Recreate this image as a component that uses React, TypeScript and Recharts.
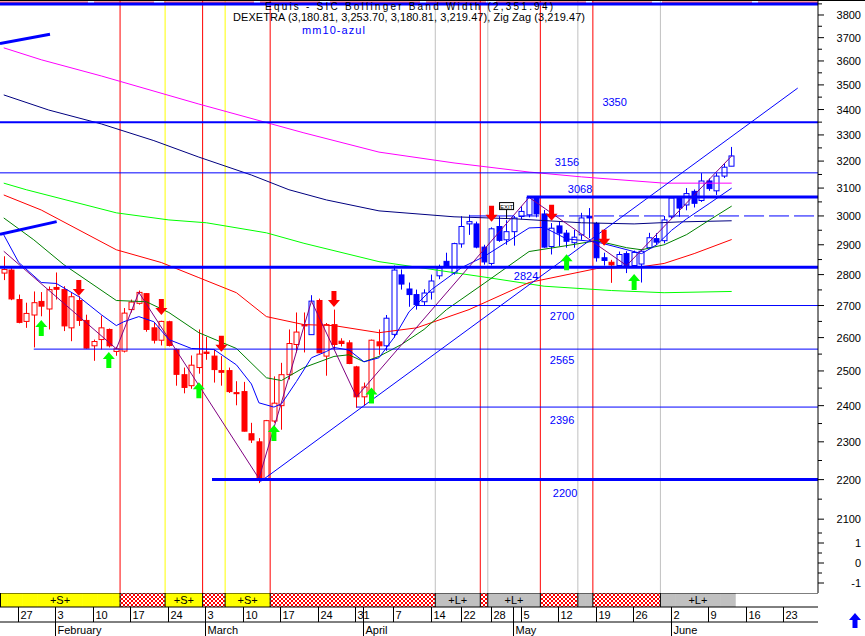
import React from "react";
import {
  ComposedChart,
  Bar,
  Line,
  Scatter,
  XAxis,
  YAxis,
  ReferenceLine,
  ReferenceDot,
} from "recharts";

const FONT = '"Liberation Sans", Arial, sans-serif';

// trading days: 0 = 23 Jan ... 108 = 27 Jun (18 Apr, 21 Apr and 1 May closed)
const weekTicks = [2, 7, 12, 17, 22, 27, 32, 37, 42, 47, 52, 57, 61, 65, 69, 74, 79, 84, 89, 94, 99, 104];
const weekLabels = ["27", "3", "10", "17", "24", "3", "10", "17", "24", "31", "7", "14", "22", "28", "5", "12", "19", "26", "2", "9", "16", "23"];
const monthTicks = [7, 27, 48, 68, 89];
const monthLabels = ["February", "March", "April", "May", "June"];

const opens = [
  2805, 2815, 2719, 2650, 2670, 2713, 2689, 2758, 2751, 2630,
  2716, 2653, 2575, 2594, 2625, 2558, 2559, 2687, 2707, 2738,
  2630, 2592, 2649, 2564, 2489, 2457, 2510, 2556, 2544, 2501,
  2501, 2437, 2440, 2322, 2300, 2203, 2357, 2400, 2489, 2579,
  2640, 2609, 2716, 2544, 2640, 2589, 2584, 2512, 2425, 2440,
  2587, 2575, 2610, 2799, 2753, 2735, 2712, 2743, 2796, 2844,
  2805, 2903, 2972, 2972, 2892, 2837, 2963, 2917, 2945, 2998,
  3004, 3066, 3007, 2894, 2965, 2940, 2907, 2934, 2999, 2974,
  2856, 2841, 2830, 2870, 2830, 2835, 2890, 2921, 2914, 2997,
  3064, 3039, 3088, 3055, 3126, 3090, 3144, 3180.81,
];
const highs = [
  2861, 2823, 2735, 2709, 2745, 2743, 2761, 2807, 2762, 2741,
  2730, 2671, 2594, 2668, 2628, 2572, 2692, 2719, 2748, 2740,
  2647, 2652, 2652, 2567, 2510, 2546, 2625, 2602, 2564, 2544,
  2510, 2470, 2468, 2352, 2310, 2360, 2484, 2524, 2625, 2678,
  2678, 2733, 2722, 2645, 2687, 2598, 2592, 2515, 2466, 2594,
  2625, 2670, 2830, 2817, 2774, 2751, 2752, 2800, 2833, 2873,
  2907, 2999, 3004, 2980, 2900, 2960, 2999, 2985, 3000, 3035,
  3068, 3068, 3021, 2975, 2980, 2951, 2951, 3011, 3028, 2979,
  2873, 2849, 2877, 2878, 2880, 2885, 2941, 2940, 3000, 3070,
  3070, 3100, 3095, 3155, 3135, 3155, 3190, 3253.7,
];
const lows = [
  2782, 2717, 2644, 2630, 2570, 2666, 2625, 2719, 2620, 2589,
  2636, 2566, 2530, 2564, 2570, 2545, 2555, 2678, 2703, 2618,
  2582, 2576, 2573, 2457, 2435, 2448, 2492, 2533, 2466, 2457,
  2436, 2401, 2328, 2297, 2191, 2198, 2352, 2333, 2475, 2555,
  2555, 2609, 2554, 2486, 2564, 2573, 2520, 2394, 2400, 2432,
  2548, 2560, 2600, 2751, 2696, 2687, 2700, 2719, 2785, 2823,
  2800, 2890, 2934, 2888, 2833, 2830, 2910, 2900, 2897, 2988,
  2995, 2995, 2890, 2867, 2895, 2890, 2890, 2917, 2923, 2843,
  2830, 2773, 2823, 2805, 2825, 2774, 2885, 2900, 2905, 2990,
  2997, 3020, 3030, 3050, 3090, 3075, 3137, 3180.81,
];
const closes = [
  2817, 2721, 2647, 2675, 2709, 2698, 2751, 2752, 2636, 2728,
  2653, 2568, 2588, 2630, 2575, 2566, 2676, 2711, 2742, 2625,
  2592, 2650, 2576, 2490, 2452, 2517, 2550, 2552, 2504, 2496,
  2440, 2434, 2329, 2305, 2203, 2358, 2407, 2489, 2582, 2617,
  2636, 2714, 2554, 2640, 2579, 2582, 2522, 2425, 2453, 2592,
  2575, 2660, 2815, 2769, 2735, 2703, 2740, 2779, 2822, 2827,
  2904, 2963, 2980, 2892, 2842, 2955, 2915, 2945, 2993, 3016,
  3066, 3007, 2892, 2957, 2940, 2912, 2926, 2993, 2993, 2856,
  2847, 2832, 2867, 2830, 2874, 2878, 2924, 2909, 2986, 3064,
  3028, 3080, 3045, 3126, 3098, 3144, 3177, 3219.47,
];
// r = red candle, b = blue candle
const candleColors = "r".repeat(41) + "b" + "r".repeat(9) + "b".repeat(30) + "r" + "b".repeat(16);

// moving averages, [day, value]
const maMagenta = [[0, 3656], [5, 3605], [13, 3537], [26, 3422], [40, 3308], [50, 3234], [60, 3193], [70, 3159], [77, 3141], [88, 3118], [97, 3118]];
const maNavy = [[0, 3459], [6, 3398], [13, 3343], [20, 3278], [26, 3215], [33, 3148], [38, 3094], [43, 3057], [50, 3018], [60, 2997], [68, 2990], [77, 2976], [84, 2972], [90, 2979], [97, 2983]];
const maLime = [[0, 3118], [3, 3094], [15, 3011], [22, 2986], [27, 2976], [35, 2941], [40, 2905], [50, 2843], [64, 2792], [72, 2762], [81, 2748], [88, 2741], [97, 2745]];
const maRed = [[0, 3075], [5, 3021], [15, 2883], [21, 2840], [26, 2790], [31, 2741], [35, 2665], [40, 2640], [44, 2637], [50, 2615], [55, 2630], [62, 2687], [70, 2774], [79, 2820], [85, 2826], [88, 2837], [92, 2870], [97, 2918]];
const maGreen = [[0, 2993], [4, 2917], [8, 2833], [15, 2716], [19, 2712], [22, 2678], [26, 2615], [31, 2567], [35, 2480], [37, 2472], [40, 2510], [44, 2543], [46, 2548], [48, 2527], [50, 2543], [53, 2579], [56, 2625], [59, 2687], [64, 2771], [70, 2877], [75, 2897], [79, 2914], [83, 2890], [85, 2883], [88, 2900], [91, 2935], [94, 2985], [97, 3035]];
const mm10 = [[0, 2934], [2, 2840], [5, 2774], [7, 2771], [10, 2728], [13, 2671], [15, 2637], [16, 2649], [18, 2665], [20, 2649], [22, 2594], [25, 2567], [28, 2564], [31, 2518], [33, 2462], [34, 2408], [36, 2396], [37, 2405], [39, 2469], [41, 2539], [43, 2558], [44, 2570], [46, 2562], [48, 2527], [50, 2539], [52, 2600], [54, 2680], [57, 2751], [61, 2823], [64, 2860], [70, 2958], [72, 2960], [75, 2920], [79, 2910], [82, 2890], [85, 2870], [87, 2900], [89, 2950], [91, 2990], [94, 3044], [97, 3100]];
const zigZag = [[0, 2878], [15, 2566], [18, 2742], [34, 2203], [41, 2714], [47, 2425], [70, 3066], [83, 2830], [97, 3219.47]];

// signal arrows, tip at [day, value]
const sellSignals = [[10, 2730], [21, 2670], [29, 2557], [44, 2695], [65, 2980], [73, 2983], [80, 2897]];
const buySignals = [[5, 2654], [14, 2556], [26, 2467], [36, 2346], [49, 2452], [75, 2868], [84, 2802]];

// horizontal levels and the day each one starts
const levelPrices = [3849, 3350, 3156, 3068, 3000, 2824, 2700, 2565, 2396, 2200];
const levelFrom = [-0.5, -0.5, -0.5, 69.7, 62, -0.5, 55, 4, 47, 27.75];
const levelTexts = ["", "3350", "3156", "3068", "", "2824", "2700", "2565", "2396", "2200"];
const levelTextAt = [null, [81.4, 3432], [75.05, 3195], [76.8, 3096], null, [69.6, 2795], [74.4, 2667], [74.4, 2533], [74.4, 2360], [74.8, 2165]];
const thickLevels = [3849, 3068, 2824, 2200];

// trend lines [[day, value], [day, value]]
const trendLines = [
  [[34.2, 2195], [105.8, 3487]],
  [[-0.5, 3675], [6.16, 3715]],
  [[-0.5, 2936], [7.05, 2980]],
];

// signal strip
const signalSegs = [
  { from: 0, to: 15, kind: "S" },
  { from: 16, to: 21, kind: "X" },
  { from: 22, to: 26, kind: "S" },
  { from: 27, to: 29, kind: "X" },
  { from: 30, to: 35, kind: "S" },
  { from: 36, to: 57, kind: "X" },
  { from: 58, to: 63, kind: "L" },
  { from: 64, to: 64, kind: "X" },
  { from: 65, to: 71, kind: "L" },
  { from: 72, to: 76, kind: "X" },
  { from: 77, to: 78, kind: "N" },
  { from: 79, to: 87, kind: "X" },
  { from: 88, to: 97, kind: "L" },
];

const priceTicks = [
  2100, 2150, 2200, 2250, 2300, 2350, 2400, 2450, 2500, 2550, 2600, 2650,
  2700, 2750, 2800, 2850, 2900, 2950, 3000, 3050, 3100, 3150, 3200, 3250,
  3300, 3350, 3400, 3450, 3500, 3550, 3600, 3650, 3700, 3750, 3800, 3850,
];
const indTicks = [1.5, 1, 0.5, 0, -0.5, -1];

const candles = opens.map((o, i) => ({
  i,
  o,
  h: highs[i],
  l: lows[i],
  c: closes[i],
  range: [lows[i], highs[i]],
  col: candleColors[i],
}));
const pts = (arr: number[][]) => arr.map(([i, v]) => ({ i, v }));

const markers = signalSegs.slice(1).map((s) => ({
  x: s.from - 0.5,
  color: s.kind === "X" ? "#ff0000" : s.kind === "S" ? "#ffff00" : "#c0c0c0",
}));
const stripData = signalSegs.flatMap((s) => {
  const out = [] as any[];
  for (let i = s.from; i <= s.to; i++) out.push({ i, kind: s.kind, full: 1 });
  return out;
});

const X_DOMAIN = [-0.5, 108.5];
const Y_DOMAIN = [2073.4, 3867.6];
const zero = { top: 0, right: 0, bottom: 0, left: 0 };

function Candle(props: any) {
  const { x, y, width, height, payload } = props;
  const { o, h, l, c, col } = payload;
  const color = col === "b" ? "#0000ff" : "#ff0000";
  const span = Math.log(h) - Math.log(l);
  const py = (v: number) => (span > 0 ? y + (height * (Math.log(h) - Math.log(v))) / span : y);
  const top = py(Math.max(o, c));
  const bot = py(Math.min(o, c));
  const cx = Math.round(x + width / 2) + 0.5;
  const hollow = c > o;
  return (
    <g>
      <line x1={cx} x2={cx} y1={y} y2={y + height} stroke={color} strokeWidth={1} />
      <rect
        x={cx - 2.5}
        y={top}
        width={5}
        height={Math.max(bot - top, 1)}
        fill={hollow ? "#ffffff" : color}
        stroke={color}
        strokeWidth={1}
      />
    </g>
  );
}

function SellArrow(props: any) {
  const { cx, cy } = props;
  const d = `M${cx - 2.5},${cy - 16} L${cx + 2.5},${cy - 16} L${cx + 2.5},${cy - 7} L${cx + 6},${cy - 7} L${cx},${cy} L${cx - 6},${cy - 7} L${cx - 2.5},${cy - 7} Z`;
  return <path d={d} fill="#ff0000" />;
}

function BuyArrow(props: any) {
  const { cx, cy } = props;
  const d = `M${cx},${cy} L${cx + 6},${cy + 7} L${cx + 2.5},${cy + 7} L${cx + 2.5},${cy + 16} L${cx - 2.5},${cy + 16} L${cx - 2.5},${cy + 7} L${cx - 6},${cy + 7} Z`;
  return <path d={d} fill="#00ff00" />;
}

function PriceTick(props: any) {
  const { x, y, payload } = props;
  const major = payload.value % 100 === 0;
  return (
    <g>
      <line x1={x} x2={x + (major ? 6 : 4)} y1={y} y2={y} stroke="#000" />
      {major && (
        <text x={x + 43} y={y} textAnchor="end" dominantBaseline="central" fontSize={11} fontFamily={FONT} fill="#000">
          {payload.value}
        </text>
      )}
    </g>
  );
}

function IndTick(props: any) {
  const { x, y, payload } = props;
  const major = Number.isInteger(payload.value);
  return (
    <g>
      <line x1={x} x2={x + (major ? 6 : 4)} y1={y} y2={y} stroke="#000" />
      {major && (
        <text x={x + 43} y={y} textAnchor="end" dominantBaseline="central" fontSize={11} fontFamily={FONT} fill="#000">
          {payload.value}
        </text>
      )}
    </g>
  );
}

function DateTick(props: any) {
  const { x, y, payload } = props;
  const k = weekTicks.indexOf(payload.value);
  const px = Math.round(x) - 0.5;
  return (
    <g>
      <line x1={px} x2={px} y1={y} y2={y + 15} stroke="#000" />
      <text x={px + 2} y={y + 12} fontSize={11} fontFamily={FONT} fill="#000">
        {weekLabels[k]}
      </text>
    </g>
  );
}

function MonthTick(props: any) {
  const { x, y, payload } = props;
  const k = monthTicks.indexOf(payload.value);
  const px = Math.round(x) - 0.5;
  return (
    <g>
      <line x1={px} x2={px} y1={y - 15} y2={y + 14} stroke="#000" />
      <text x={px + 2} y={y + 12} fontSize={11} fontFamily={FONT} fill="#000">
        {monthLabels[k]}
      </text>
    </g>
  );
}

function StripCell(props: any) {
  const { x, y, width, height, payload } = props;
  const fill = payload.kind === "S" ? "#ffff00" : payload.kind === "X" ? "url(#xhatch)" : "#c0c0c0";
  return <rect x={x - 0.3} y={y} width={width + 0.6} height={height} fill={fill} />;
}

const levelText = (text: string) => (p: any) => (
  <text x={p.cx} y={p.cy} textAnchor="middle" dominantBaseline="central" fontSize={11} fontFamily={FONT} fill="#0000ff">
    {text}
  </text>
);

const lineProps = { strokeWidth: 1, dot: false, activeDot: false, isAnimationActive: false } as any;

export default function App() {
  return (
    <div style={{ position: "absolute", left: 0, top: 0, width: 865, height: 636, background: "#fff", overflow: "hidden" }}>
      <div style={{ position: "absolute", left: 0, top: 0 }}>
        <ComposedChart width={865} height={530} data={candles} margin={zero}>
          <XAxis dataKey="i" type="number" domain={X_DOMAIN} hide allowDataOverflow />
          <YAxis
            orientation="right"
            scale="log"
            type="number"
            domain={Y_DOMAIN}
            allowDataOverflow
            ticks={priceTicks}
            interval={0}
            width={47}
            tickSize={0}
            tickMargin={0}
            tickLine={false}
            axisLine={{ stroke: "#000" }}
            tick={PriceTick}
          />
          {markers.map((m, k) => (
            <ReferenceLine key={"m" + k} x={m.x} stroke={m.color} strokeWidth={1} />
          ))}
          <Bar dataKey="range" barSize={5} shape={Candle} isAnimationActive={false} />
          <Line data={pts(maMagenta)} dataKey="v" stroke="#ff00ff" {...lineProps} />
          <Line data={pts(maNavy)} dataKey="v" stroke="#000080" {...lineProps} />
          <Line data={pts(maLime)} dataKey="v" stroke="#00ff00" {...lineProps} />
          <Line data={pts(maRed)} dataKey="v" stroke="#ff0000" {...lineProps} />
          <Line data={pts(maGreen)} dataKey="v" stroke="#008000" {...lineProps} />
          <Line data={pts(mm10)} dataKey="v" stroke="#0000ff" {...lineProps} />
          <Line data={pts(zigZag)} dataKey="v" stroke="#800080" {...lineProps} />
          <ReferenceLine y={3858} stroke="#ff0000" strokeWidth={1} strokeDasharray="60 6 90 10" />
          {levelPrices.map((p, k) => (
            <ReferenceLine
              key={"l" + k}
              segment={[{ x: levelFrom[k], y: p }, { x: X_DOMAIN[1], y: p }]}
              stroke="#0000ff"
              strokeWidth={thickLevels.includes(p) ? 3 : p === 3350 ? 2 : 1}
              strokeDasharray={p === 3000 ? "20 5" : undefined}
            />
          ))}
          {trendLines.map((t, k) => (
            <ReferenceLine
              key={"t" + k}
              segment={[{ x: t[0][0], y: t[0][1] }, { x: t[1][0], y: t[1][1] }]}
              stroke="#0000ff"
              strokeWidth={k === 0 ? 1 : 3}
            />
          ))}
          {levelTexts.map((t, k) =>
            t ? (
              <ReferenceDot key={"lt" + k} x={(levelTextAt[k] as number[])[0]} y={(levelTextAt[k] as number[])[1]} r={0} shape={levelText(t)} />
            ) : null
          )}
          <ReferenceDot
            x={67}
            y={3035}
            r={0}
            shape={(p: any) => (
              <g>
                <line x1={p.cx} x2={p.cx} y1={p.cy + 3} y2={p.cy + 13} stroke="#000" />
                <rect x={p.cx - 7} y={p.cy - 3.5} width={14} height={7} fill="#fff" stroke="#000" />
                <text x={p.cx} y={p.cy + 0.5} textAnchor="middle" dominantBaseline="central" fontSize={6} fontFamily={FONT} fill="#000">
                  EXIT
                </text>
              </g>
            )}
          />
          <Scatter data={pts(sellSignals)} dataKey="v" shape={SellArrow} activeShape={SellArrow} isAnimationActive={false} />
          <Scatter data={pts(buySignals)} dataKey="v" shape={BuyArrow} activeShape={BuyArrow} isAnimationActive={false} />
        </ComposedChart>
      </div>

      <div style={{ position: "absolute", left: 0, top: 530 }}>
        <ComposedChart width={865} height={63} data={candles} margin={zero}>
          <XAxis dataKey="i" type="number" domain={X_DOMAIN} hide allowDataOverflow />
          <YAxis
            orientation="right"
            type="number"
            domain={[-1.5, 1.65]}
            allowDataOverflow
            ticks={indTicks}
            interval={0}
            width={47}
            tickSize={0}
            tickMargin={0}
            tickLine={false}
            axisLine={{ stroke: "#000" }}
            tick={IndTick}
          />
          {markers.map((m, k) => (
            <ReferenceLine key={"m" + k} x={m.x} stroke={m.color} strokeWidth={1} />
          ))}
        </ComposedChart>
      </div>

      <div style={{ position: "absolute", left: 0, top: 593 }}>
        <ComposedChart width={818} height={43} data={stripData} margin={zero}>
          <defs>
            <pattern id="xhatch" width="4" height="4" patternUnits="userSpaceOnUse">
              <rect width="4" height="4" fill="#fff" />
              <path d="M0,0 L4,4 M4,0 L0,4" stroke="#ff0000" strokeWidth={1} />
            </pattern>
          </defs>
          <XAxis
            xAxisId="d"
            dataKey="i"
            type="number"
            domain={X_DOMAIN}
            allowDataOverflow
            ticks={weekTicks}
            interval={0}
            height={15}
            tickSize={0}
            tickMargin={0}
            tickLine={false}
            axisLine={{ stroke: "#000" }}
            tick={DateTick}
          />
          <XAxis
            xAxisId="m"
            dataKey="i"
            type="number"
            domain={X_DOMAIN}
            allowDataOverflow
            ticks={monthTicks}
            interval={0}
            height={14}
            tickSize={0}
            tickMargin={0}
            tickLine={false}
            axisLine={{ stroke: "#000" }}
            tick={MonthTick}
          />
          <YAxis hide domain={[0, 1]} />
          <Bar xAxisId="d" dataKey="full" barSize={7.5} shape={StripCell} activeBar={false} isAnimationActive={false} />
          <ReferenceLine xAxisId="d" y={1} stroke="#000" />
          <ReferenceLine xAxisId="d" x={-0.5} stroke="#000" strokeWidth={2} />
          {markers.map((m, k) => (
            <ReferenceLine key={"b" + k} xAxisId="d" x={m.x} stroke="#000" />
          ))}
          {signalSegs
            .filter((s) => s.kind === "S" || s.kind === "L")
            .map((s, k) => (
              <ReferenceDot
                key={"s" + k}
                xAxisId="d"
                x={(s.from + s.to) / 2}
                y={0.5}
                r={0}
                shape={(p: any) => (
                  <text x={p.cx} y={p.cy} textAnchor="middle" dominantBaseline="central" fontSize={11} fontFamily={FONT} fill="#000">
                    {s.kind === "S" ? "+S+" : "+L+"}
                  </text>
                )}
              />
            ))}
        </ComposedChart>
      </div>

      <svg width={865} height={636} style={{ position: "absolute", left: 0, top: 0, pointerEvents: "none" }}>
        <line x1={0} x2={865} y1={0.5} y2={0.5} stroke="#000" />
        <text x={265} y={10} fontSize={10} fontFamily={FONT} fill="#000" textLength={288}>
          Equis - SIC Bollinger Band Width (2,351.94)
        </text>
        <text x={233} y={21} fontSize={11} fontFamily={FONT} fill="#000" textLength={352}>
          DEXETRA (3,180.81, 3,253.70, 3,180.81, 3,219.47), Zig Zag (3,219.47)
        </text>
        <text x={302} y={34} fontSize={11} fontFamily={FONT} fill="#0000ff" textLength={63}>
          mm10-azul
        </text>
        <path d="M855,613 L861,620 L857.5,620 L857.5,628 L852.5,628 L852.5,620 L849,620 Z" fill="#0000ff" />
      </svg>
    </div>
  );
}
